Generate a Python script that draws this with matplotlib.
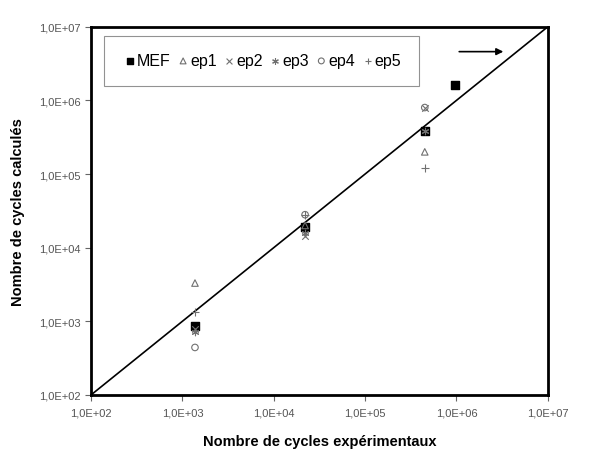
import numpy as np
import matplotlib.pyplot as plt
from matplotlib.ticker import FixedLocator, NullLocator

plt.rcParams['font.family'] = ['Liberation Sans', 'DejaVu Sans']

# experimental cycles (x) and calculated cycles (y)
x_mef = [1.37e3, 2.2e4, 4.5e5, 9.6e5]
y_mef = [8.7e2, 1.9e4, 3.9e5, 1.63e6]
x_ep = [1.37e3, 2.2e4, 4.5e5]
ep1 = [3.3e3, 2.0e4, 2.0e5]
ep2 = [7.8e2, 1.45e4, 8.0e5]
ep3 = [7.2e2, 1.6e4, 3.9e5]
ep4 = [4.4e2, 2.8e4, 8.0e5]
ep5 = [1.35e3, 2.8e4, 1.2e5]

ticks = [1e2, 1e3, 1e4, 1e5, 1e6, 1e7]
tick_labels = ["1,0E+02", "1,0E+03", "1,0E+04", "1,0E+05", "1,0E+06", "1,0E+07"]

fig = plt.figure(figsize=(6.12, 4.56), dpi=100)
ax = fig.add_axes([0.149, 0.132, 0.746, 0.807])
ax.set_xscale('log')
ax.set_yscale('log')
ax.set_xlim(1e2, 1e7)
ax.set_ylim(1e2, 1e7)

ax.plot([1e2, 1e7], [1e2, 1e7], color='black', lw=1.2, zorder=1)

grey = '#707070'
ax.scatter(x_mef, y_mef, marker='s', s=30, color='black', label='MEF', zorder=3)
ax.scatter(x_ep, ep1, marker='^', s=22, facecolor='none', edgecolor=grey, lw=0.8, label='ep1', zorder=4)
ax.scatter(x_ep, ep2, marker='x', s=22, color=grey, lw=0.8, label='ep2', zorder=4)
ax.scatter(x_ep, ep3, marker=(6, 2, 0), s=22, color=grey, lw=0.8, label='ep3', zorder=4)
ax.scatter(x_ep, ep4, marker='o', s=22, facecolor='none', edgecolor=grey, lw=0.8, label='ep4', zorder=4)
ax.scatter(x_ep, ep5, marker='+', s=30, color=grey, lw=0.8, label='ep5', zorder=4)

ax.annotate('', xy=(3.5e6, 4.6e6), xytext=(1.0e6, 4.6e6),
            arrowprops=dict(arrowstyle='-|>', color='black', lw=1.2, mutation_scale=10))

ax.xaxis.set_major_locator(FixedLocator(ticks))
ax.yaxis.set_major_locator(FixedLocator(ticks))
ax.xaxis.set_minor_locator(NullLocator())
ax.yaxis.set_minor_locator(NullLocator())
ax.set_xticklabels(tick_labels)
ax.set_yticklabels(tick_labels)
ax.tick_params(labelsize=8, labelcolor='#555555', length=4, color='#666666', width=0.8)
ax.tick_params(axis='x', pad=5)
for s in ax.spines.values():
    s.set_linewidth(2)

ax.set_xlabel('Nombre de cycles expérimentaux', fontsize=10.5, fontweight='bold', labelpad=12)
ax.set_ylabel('Nombre de cycles calculés', fontsize=10.5, fontweight='bold', labelpad=10)

leg = ax.legend(loc='upper left', bbox_to_anchor=(0.02, 0.985), ncol=6, fontsize=11.5,
                handletextpad=-0.1, columnspacing=0.22, handlelength=1.1, fancybox=False,
                borderpad=1.1, borderaxespad=0.2, markerscale=0.9)
leg.get_frame().set_edgecolor('#777777')
leg.get_frame().set_linewidth(0.8)

fig.savefig('out.png', dpi=100)
